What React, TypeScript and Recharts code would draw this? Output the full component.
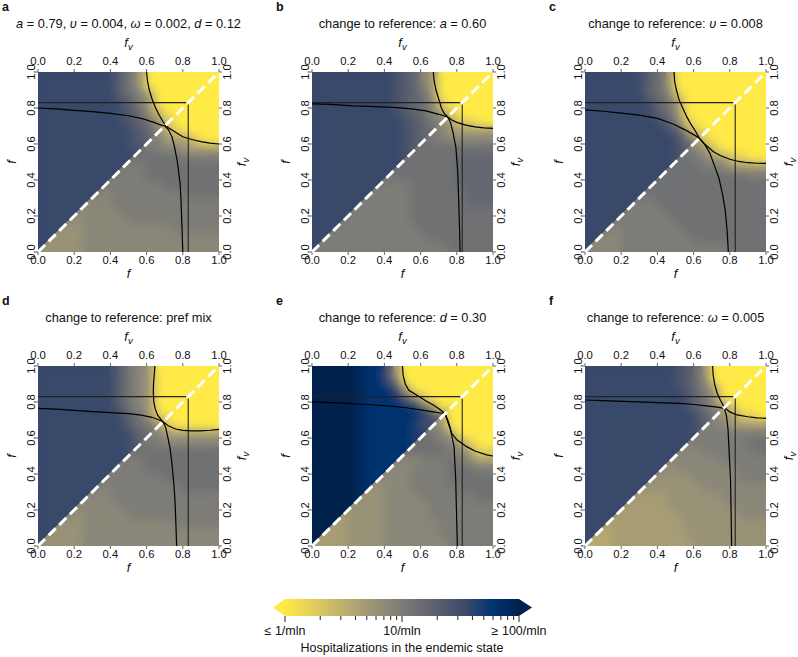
import React from 'react';
import { ComposedChart, Scatter, Area, XAxis, YAxis, ReferenceArea } from 'recharts';

const FONT = '"Liberation Sans", Arial, Helvetica, sans-serif';
const INK = '#111';

// axis ticks shared by every panel
const TICKS = [0, 0.2, 0.4, 0.6, 0.8, 1];

// heat map grid: 20x20 cells, rows from f = 1 (top) down to f = 0, columns fv = 0 .. 1
// code -> colour level: '0' darkest (>= 100/mln) ... '9' yellow (<= 1/mln), letters are half steps
const N = 20;
const LEVEL_CODES = '0a1b2c3d4e5f6g7h8i9';
const CIVIDIS = ['#00204D', '#00336F', '#39486B', '#575C6D', '#707173', '#8A8779', '#A69D75', '#C4B56C', '#E4CF5B', '#FFEA46'];
const YELLOW = '#FFE93F';

const CROSS = 0.83;
const CROSS_LINE = [
  { x: 0, y: CROSS },
  { x: CROSS, y: CROSS },
  { x: CROSS, y: 0 },
];
const DIAGONAL = [
  { x: 0, y: 0 },
  { x: 1, y: 1 },
];

// ---- panel a
const A_GRID = [
  '22222222cde699999999',
  '22222222cde699999999',
  '22222222cd4569999999',
  '222222222cde69999999',
  '222222222c3467999999',
  '222222222c3d46899999',
  '2222222222c345789999',
  '2222222222c3d5666899',
  '2222222222ccee556666',
  '2222222222244444eeee',
  '2222222222ee44444444',
  '222222222eee44444444',
  '22222222eeeeee444444',
  '22222225eeeeeeee4444',
  '22222255eeeeeeeeeeee',
  '222225555eeeeeeeeeee',
  '2222f55555eeeeeeeeee',
  '222ff5555555555eeeee',
  '22fff555555555555555',
  '2ffff555555555555555',
];
const A_DIAG = '9999985e44eeee555fff';
const A_EDGE: [number, number][] = [
  [0.6, 1], [0.605, 0.95], [0.615, 0.9], [0.63, 0.85], [0.65, 0.8], [0.67, 0.76], [0.69, 0.725], [0.705, 0.705],
  [0.72, 0.69], [0.76, 0.665], [0.8, 0.64], [0.85, 0.625], [0.9, 0.613], [0.95, 0.605], [1, 0.6],
];
const A_INNER: [number, number][] = [
  [0, 0.8], [0.1, 0.795], [0.2, 0.787], [0.3, 0.78], [0.4, 0.77], [0.5, 0.757], [0.58, 0.74], [0.64, 0.72], [0.68, 0.705],
  [0.7, 0.7], [0.72, 0.68], [0.74, 0.64], [0.755, 0.58], [0.77, 0.5], [0.785, 0.38], [0.79, 0.29], [0.795, 0.15], [0.8, 0],
];

// ---- panel b
const B_GRID = [
  '222222222c3d56999999',
  '222222222c3d56999999',
  '222222222c3d46999999',
  '222222222c3d45899999',
  '222222222c3d45689999',
  '2222222222c3de568899',
  '2222222222c3d4566666',
  '2222222222c3dee55555',
  '2222222222c344444444',
  '2222222222c44444dddd',
  '2222222222444444dddd',
  '2222222224444444dddd',
  '22222222eee44444dddd',
  '2222222eeee444444ddd',
  '222222eeeee444444ddd',
  '22222eeeeee444444444',
  '2222eeeeeee444444444',
  '222eeeeeeeee44444444',
  '22eeeeeeeeeee4444444',
  '2eeeeeeeeeeeeee44444',
];
const B_DIAG = '999985e44444eeeeeeee';
const B_EDGE: [number, number][] = [
  [0.67, 1], [0.675, 0.95], [0.685, 0.9], [0.7, 0.85], [0.715, 0.8], [0.73, 0.77], [0.75, 0.75], [0.77, 0.735],
  [0.8, 0.72], [0.85, 0.705], [0.9, 0.695], [0.95, 0.69], [1, 0.687],
];
const B_INNER: [number, number][] = [
  [0, 0.823], [0.1, 0.82], [0.23, 0.812], [0.35, 0.808], [0.45, 0.804], [0.55, 0.795], [0.63, 0.784], [0.7, 0.765],
  [0.75, 0.75], [0.765, 0.72], [0.78, 0.66], [0.795, 0.58], [0.805, 0.45], [0.81, 0.3], [0.813, 0.2], [0.816, 0.1], [0.818, 0],
];

// ---- panel c
const C_GRID = [
  '222222cd469999999999',
  '222222cd469999999999',
  '222222cd458999999999',
  '2222222cde6999999999',
  '2222222cd46999999999',
  '22222222cd5899999999',
  '222222222cd689999999',
  '2222222222c468999999',
  '2222222222cd56899999',
  '2222222222c4e5668899',
  '2222222222444ee56666',
  '222222222444444444ee',
  '22222222444444444444',
  '22222224444444444444',
  '222222ee444444444444',
  '22222eeee44444444444',
  '2222eeeeee4444444444',
  '2225eeeeeee444444444',
  '2255eeeeeeee44444444',
  '2555eeeeeeeeeeee4444',
];
const C_DIAG = '99999996e44444eeee55';
const C_EDGE: [number, number][] = [
  [0.492, 1], [0.495, 0.95], [0.505, 0.9], [0.52, 0.845], [0.54, 0.8], [0.562, 0.752], [0.585, 0.71], [0.608, 0.675],
  [0.632, 0.632], [0.66, 0.6], [0.71, 0.557], [0.75, 0.535], [0.8, 0.515], [0.85, 0.503], [0.9, 0.496], [0.95, 0.493], [1, 0.492],
];
const C_INNER: [number, number][] = [
  [0, 0.79], [0.1, 0.782], [0.2, 0.772], [0.3, 0.76], [0.4, 0.742], [0.49, 0.71], [0.55, 0.68], [0.6, 0.652], [0.632, 0.632],
  [0.66, 0.6], [0.69, 0.548], [0.715, 0.48], [0.74, 0.41], [0.76, 0.32], [0.775, 0.23], [0.785, 0.12], [0.792, 0],
];

// ---- panel d
const D_GRID = [
  '22222222cde569999999',
  '22222222cde569999999',
  '22222222cde569999999',
  '22222222cde569999999',
  '22222222cde569999999',
  '222222222cde68999999',
  '222222222cd4e6899999',
  '2222222222cd45666666',
  '2222222222cdee555555',
  '2222222222c444444444',
  '2222222222ee44444444',
  '222222222eee44444444',
  '22222222eeeeee444444',
  '22222225eeeeeeee4444',
  '22222255eeeeeeeeeeee',
  '222225555eeeeeeeeeee',
  '2222f55555eeeeeeeeee',
  '222ff5555555555eeeee',
  '22fff555555555555555',
  '2ffff555555555555555',
];
const D_DIAG = '9999996e44eeee555fff';
const D_EDGE: [number, number][] = [
  [0.646, 1], [0.642, 0.95], [0.638, 0.9], [0.637, 0.85], [0.64, 0.8], [0.648, 0.76], [0.662, 0.725], [0.69, 0.69],
  [0.72, 0.668], [0.76, 0.65], [0.8, 0.642], [0.85, 0.64], [0.9, 0.64], [0.95, 0.643], [1, 0.648],
];
const D_INNER: [number, number][] = [
  [0, 0.765], [0.1, 0.76], [0.2, 0.753], [0.3, 0.747], [0.4, 0.741], [0.5, 0.735], [0.57, 0.727], [0.63, 0.715], [0.67, 0.7],
  [0.69, 0.69], [0.705, 0.66], [0.718, 0.6], [0.73, 0.54], [0.742, 0.44], [0.75, 0.35], [0.757, 0.25], [0.762, 0.12], [0.766, 0],
];

// ---- panel e
const E_GRID = [
  '00000a11c69999999999',
  '00000a11c59999999999',
  '00000a111c6999999999',
  '00000a111bd589999999',
  '00000a11111bd6999999',
  '00000a111111bc499999',
  '00000a11111bcc699999',
  '00000a11111bbe569999',
  '00000a11111b44e56899',
  '00000a111114444e5688',
  '00000a111155eee4e566',
  '00000a11155eeee444ee',
  '00000a11555eeee44444',
  '00000a1f555eeeee4444',
  '00000aff5555eeeeee44',
  '00000fff55555eeeeeee',
  '0000ffff55555eeeeeee',
  '0006ffff555555eeeeee',
  '0066ffff555555eeeeee',
  '0666ffff5555555eeeee',
];
const E_DIAG = '999996e444555fff6666';
const E_EDGE: [number, number][] = [
  [0.5, 1], [0.503, 0.95], [0.515, 0.9], [0.535, 0.865], [0.58, 0.838], [0.63, 0.805], [0.67, 0.783], [0.705, 0.76],
  [0.735, 0.735], [0.75, 0.69], [0.772, 0.626], [0.8, 0.59], [0.855, 0.552], [0.9, 0.528], [0.965, 0.506], [1, 0.5],
];
const E_INNER: [number, number][] = [
  [0, 0.802], [0.1, 0.797], [0.2, 0.792], [0.3, 0.786], [0.42, 0.778], [0.52, 0.768], [0.6, 0.756], [0.67, 0.745],
  [0.735, 0.735], [0.75, 0.7], [0.762, 0.663], [0.775, 0.6], [0.785, 0.55], [0.79, 0.45], [0.794, 0.37], [0.798, 0.2], [0.803, 0],
];

// ---- panel f
const F_GRID = [
  '2222222222c346999999',
  '2222222222c345999999',
  '2222222222c345699999',
  '22222222222cde699999',
  '22222222222cd4568999',
  '222222222222cde66889',
  '222222222222cd556666',
  '222222222222ceeeeeee',
  '222222222222eeeeee44',
  '2222222222255eeeeee4',
  '222222222255555eeeee',
  '222222222f5555555eee',
  '22222222ffff55555eee',
  '2222222ffffff5555555',
  '222222666ffffff55555',
  '222226666fffffff5555',
  '2222666666fffffff555',
  '22266666666fffffffff',
  '22g66666666fffffffff',
  '2gg666666666ffffffff',
];
const F_DIAG = '99996eeee555ff6666gg';
const F_EDGE: [number, number][] = [
  [0.705, 1], [0.708, 0.95], [0.716, 0.9], [0.73, 0.85], [0.748, 0.81], [0.77, 0.77], [0.8, 0.745], [0.84, 0.728],
  [0.9, 0.718], [0.95, 0.712], [1, 0.709],
];
const F_INNER: [number, number][] = [
  [0, 0.811], [0.1, 0.808], [0.25, 0.802], [0.4, 0.797], [0.525, 0.792], [0.6, 0.786], [0.672, 0.778], [0.73, 0.772],
  [0.77, 0.765], [0.782, 0.72], [0.79, 0.65], [0.795, 0.552], [0.8, 0.45], [0.804, 0.367], [0.807, 0.2], [0.81, 0],
];

type Seg = [string, boolean];
const TITLE_A: Seg[] = [['a', true], [' = 0.79, ', false], ['υ', true], [' = 0.004, ', false], ['ω', true], [' = 0.002, ', false], ['d', true], [' = 0.12', false]];
const TITLE_B: Seg[] = [['change to reference: ', false], ['a', true], [' = 0.60', false]];
const TITLE_C: Seg[] = [['change to reference: ', false], ['υ', true], [' = 0.008', false]];
const TITLE_D: Seg[] = [['change to reference: pref mix', false]];
const TITLE_E: Seg[] = [['change to reference: ', false], ['d', true], [' = 0.30', false]];
const TITLE_F: Seg[] = [['change to reference: ', false], ['ω', true], [' = 0.005', false]];

// colour bar
const CB_TICKS = [1, 2, 3, 4, 5, 6, 7, 8, 9, 10, 20, 30, 40, 50, 60, 70, 80, 90, 100];
const CB_LABELS: Record<number, string> = { 1: '≤ 1/mln', 10: '10/mln', 100: '≥ 100/mln' };
const CB_TITLE = 'Hospitalizations in the endemic state';
const CB_RANGE = [
  { x: 1, y: 0 },
  { x: 100, y: 1 },
];

// ---- layout of one panel chart
const PL = 38, PT = 72, PW = 181, PH = 180;
const PR = PL + PW, PB = PT + PH;
const CW = 255, CH = 284;

function rgbOf(h: string) {
  return [1, 3, 5].map((k) => parseInt(h.slice(k, k + 2), 16));
}
function levelColor(v: number) {
  const k = Math.max(0, Math.min(8.999, v));
  const i = Math.floor(k);
  const t = k - i;
  const a = rgbOf(CIVIDIS[i]);
  const b = rgbOf(CIVIDIS[i + 1]);
  const c = a.map((av, n) => Math.round(av + (b[n] - av) * t));
  return `rgb(${c[0]},${c[1]},${c[2]})`;
}
function levelOf(ch: string | undefined) {
  const k = ch ? LEVEL_CODES.indexOf(ch) : -1;
  return k < 0 ? 4.5 : k / 2;
}

function buildCells(grid: string[], diag: string) {
  const upper: any[] = [];
  const lower: any[] = [];
  for (let r = 0; r < N; r++) {
    const j = N - 1 - r;
    const row = grid[r];
    for (let i = 0; i < N; i++) {
      const x = (i + 0.5) / N;
      const y = (j + 0.5) / N;
      if (i <= j) upper.push({ x, y, fill: levelColor(levelOf(row[i])) });
      if (i >= j) lower.push({ x, y, fill: levelColor(levelOf(i === j ? diag[r] : row[i])) });
    }
    // one extra cell across the diagonal so the blur has colour to draw from
    if (j + 1 < N) upper.push({ x: (j + 1.5) / N, y: (j + 0.5) / N, fill: levelColor(levelOf(row[j])) });
    if (j - 1 >= 0) lower.push({ x: (j - 0.5) / N, y: (j + 0.5) / N, fill: levelColor(levelOf(diag[r])) });
  }
  return { upper, lower };
}

const toXY = (pts: [number, number][]) => pts.map(([x, y]) => ({ x, y }));
// band between the contour and f = 1, for the solid yellow area
const toBand = (pts: [number, number][]) => pts.map(([x, y]) => ({ x, band: [y, 1] }));
const fmt = (v: number) => v.toFixed(1);
const tickFont = { fontSize: 11.3, fontFamily: FONT, fill: INK };
const TICK_INK = '#666';

const BottomTick = ({ x, y, payload }: any) => (
  <g>
    <line x1={x} x2={x} y1={y} y2={y + 3} stroke={TICK_INK} />
    <text x={x} y={y + 12} textAnchor="middle" {...tickFont}>{fmt(payload.value)}</text>
  </g>
);
const TopTick = ({ x, y, payload }: any) => (
  <g>
    <line x1={x} x2={x} y1={y} y2={y - 3} stroke={TICK_INK} />
    <text x={x} y={y - 7} textAnchor="middle" {...tickFont}>{fmt(payload.value)}</text>
  </g>
);
const LeftTick = ({ x, y, payload }: any) => (
  <g>
    <line x1={x} x2={x - 3} y1={y} y2={y} stroke={TICK_INK} />
    <text x={x - 3} y={y} transform={`rotate(-90 ${x - 3} ${y})`} textAnchor="middle" {...tickFont}>{fmt(payload.value)}</text>
  </g>
);
const RightTick = ({ x, y, payload }: any) => (
  <g>
    <line x1={x} x2={x + 3} y1={y} y2={y} stroke={TICK_INK} />
    <text x={x + 12} y={y} transform={`rotate(-90 ${x + 12} ${y})`} textAnchor="middle" {...tickFont}>{fmt(payload.value)}</text>
  </g>
);

interface PanelSpec {
  id: string;
  left: number;
  top: number;
  grid: string[];
  diag: string;
  edge: [number, number][];
  inner: [number, number][];
  title: Seg[];
}

const PANELS: PanelSpec[] = [
  { id: 'a', left: 0, top: 0, grid: A_GRID, diag: A_DIAG, edge: A_EDGE, inner: A_INNER, title: TITLE_A },
  { id: 'b', left: 274, top: 0, grid: B_GRID, diag: B_DIAG, edge: B_EDGE, inner: B_INNER, title: TITLE_B },
  { id: 'c', left: 547, top: 0, grid: C_GRID, diag: C_DIAG, edge: C_EDGE, inner: C_INNER, title: TITLE_C },
  { id: 'd', left: 0, top: 294, grid: D_GRID, diag: D_DIAG, edge: D_EDGE, inner: D_INNER, title: TITLE_D },
  { id: 'e', left: 274, top: 294, grid: E_GRID, diag: E_DIAG, edge: E_EDGE, inner: E_INNER, title: TITLE_E },
  { id: 'f', left: 547, top: 294, grid: F_GRID, diag: F_DIAG, edge: F_EDGE, inner: F_INNER, title: TITLE_F },
];

const noMark = () => <g />;

function Panel({ id, left, top, grid, diag, edge, inner, title }: PanelSpec) {
  const { upper, lower } = React.useMemo(() => buildCells(grid, diag), [grid, diag]);
  const cw = PW / N;
  const chh = PH / N;
  const cellShape = (p: any) => (
    <rect x={p.cx - cw / 2 - 0.35} y={p.cy - chh / 2 - 0.35} width={cw + 0.7} height={chh + 0.7} fill={p.payload.fill} />
  );
  const midX = PL + PW / 2;
  const midY = PT + PH / 2;
  const axisName = { fontSize: 13, fontFamily: FONT, fill: INK, fontStyle: 'italic' as const };
  return (
    <div style={{ position: 'absolute', left, top }}>
      <ComposedChart width={CW} height={CH} margin={{ top: PT - 40, right: 0, bottom: 0, left: 0 }}>
        <defs>
          <filter id={`bl-${id}`} x="-15%" y="-15%" width="130%" height="130%">
            <feGaussianBlur stdDeviation={5} />
          </filter>
          <clipPath id={`cu-${id}`}>
            <polygon points={`${PL},${PB} ${PL},${PT} ${PR},${PT}`} />
          </clipPath>
          <clipPath id={`cl-${id}`}>
            <polygon points={`${PL},${PB} ${PR},${PB} ${PR},${PT} ${PR - 1.5},${PT} ${PL},${PB - 1.5}`} />
          </clipPath>
        </defs>
        <XAxis xAxisId="b" orientation="bottom" type="number" dataKey="x" domain={[0, 1]} ticks={TICKS} interval={0}
          height={CH - PB} tickSize={0} tickMargin={0} axisLine={false} tickLine={false} tick={BottomTick} />
        <XAxis xAxisId="t" orientation="top" type="number" dataKey="x" domain={[0, 1]} ticks={TICKS} interval={0}
          height={40} tickSize={0} tickMargin={0} axisLine={false} tickLine={false} tick={TopTick} />
        <YAxis yAxisId="l" orientation="left" type="number" dataKey="y" domain={[0, 1]} ticks={TICKS} interval={0}
          width={PL} tickSize={0} tickMargin={0} axisLine={false} tickLine={false} tick={LeftTick} />
        <YAxis yAxisId="r" orientation="right" type="number" dataKey="y" domain={[0, 1]} ticks={TICKS} interval={0}
          width={CW - PR} tickSize={0} tickMargin={0} axisLine={false} tickLine={false} tick={RightTick} />

        <Scatter xAxisId="t" yAxisId="r" data={DIAGONAL} shape={noMark} isAnimationActive={false} />

        <Scatter xAxisId="b" yAxisId="l" data={upper} shape={cellShape} className={`hm-u-${id}`} isAnimationActive={false} />
        <Scatter xAxisId="b" yAxisId="l" data={upper} shape={cellShape} className={`hm-u-${id} hm-b-${id}`} isAnimationActive={false} />
        <Scatter xAxisId="b" yAxisId="l" data={lower} shape={cellShape} className={`hm-l-${id}`} isAnimationActive={false} />
        <Scatter xAxisId="b" yAxisId="l" data={lower} shape={cellShape} className={`hm-l-${id} hm-b-${id}`} isAnimationActive={false} />

        <Area xAxisId="b" yAxisId="l" data={toBand(edge)} dataKey="band" type="linear" stroke="none" fill={YELLOW}
          fillOpacity={1} dot={false} activeDot={false} isAnimationActive={false} />

        <Scatter xAxisId="b" yAxisId="l" data={CROSS_LINE} shape={noMark} line={{ stroke: '#222', strokeWidth: 1.1 }} lineType="joint" isAnimationActive={false} />
        <Scatter xAxisId="b" yAxisId="l" data={toXY(edge)} shape={noMark} line={{ stroke: '#000', strokeWidth: 1.2 }} lineType="joint" isAnimationActive={false} />
        <Scatter xAxisId="b" yAxisId="l" data={toXY(inner)} shape={noMark} line={{ stroke: '#000', strokeWidth: 1.2 }} lineType="joint" isAnimationActive={false} />
        <Scatter xAxisId="b" yAxisId="l" data={DIAGONAL} shape={noMark}
          line={{ stroke: '#fff', strokeWidth: 3, strokeDasharray: '10 5' }} lineType="joint" isAnimationActive={false} />

        <text x={PL - 36} y={PT - 61} fontSize={12.5} fontWeight={700} fontFamily={FONT} fill={INK}>{id}</text>
        <text x={midX} y={PT - 44} textAnchor="middle" fontSize={12.8} fontFamily={FONT} fill={INK} style={{ whiteSpace: 'pre' }}>
          {title.map(([t, it], k) => (
            <tspan key={k} fontStyle={it ? 'italic' : 'normal'}>{t}</tspan>
          ))}
        </text>
        <text x={midX} y={PT - 25} textAnchor="middle" {...axisName}>
          f<tspan dy={3} fontSize={9.5}>v</tspan>
        </text>
        <text x={midX} y={PB + 26} textAnchor="middle" {...axisName}>f</text>
        <text x={PL - 22} y={midY} transform={`rotate(-90 ${PL - 22} ${midY})`} textAnchor="middle" {...axisName}>f</text>
        <text x={PR + 27} y={midY} transform={`rotate(-90 ${PR + 27} ${midY})`} textAnchor="middle" {...axisName}>
          f<tspan dy={3} fontSize={9.5}>v</tspan>
        </text>
      </ComposedChart>
    </div>
  );
}

const CbTick = ({ x, y, payload }: any) => {
  const label = CB_LABELS[payload.value];
  return (
    <g>
      <line x1={x} x2={x} y1={y} y2={y + (label ? 6 : 4)} stroke="#222" />
      {label && (
        <text x={x} y={y + 19} textAnchor="middle" fontSize={12.5} fontFamily={FONT} fill={INK}>{label}</text>
      )}
    </g>
  );
};

const barShape = (p: any) => {
  const { x, y, width: w, height: h } = p;
  const stops = CIVIDIS.slice().reverse();
  return (
    <g>
      <defs>
        <linearGradient id="cb-grad" gradientUnits="userSpaceOnUse" x1={x} y1={0} x2={x + w} y2={0}>
          {stops.map((c, k) => (
            <stop key={k} offset={k / (stops.length - 1)} stopColor={c} />
          ))}
        </linearGradient>
      </defs>
      <polygon
        points={`${x - 12},${y + h / 2} ${x},${y} ${x + w},${y} ${x + w + 13},${y + h / 2} ${x + w},${y + h} ${x},${y + h}`}
        fill="url(#cb-grad)"
      />
    </g>
  );
};

function ColorBar() {
  return (
    <div style={{ position: 'absolute', left: 245, top: 590 }}>
      <ComposedChart width={320} height={66} margin={{ top: 9, right: 46, bottom: 16, left: 40 }}>
        <XAxis type="number" scale="log" dataKey="x" domain={[1, 100]} ticks={CB_TICKS} interval={0} height={24}
          tickSize={0} tickMargin={0} axisLine={false} tickLine={false} tick={CbTick} />
        <YAxis type="number" dataKey="y" domain={[0, 1]} hide />
        <Scatter data={CB_RANGE} shape={noMark} isAnimationActive={false} />
        <ReferenceArea x1={1} x2={100} y1={0} y2={1} shape={barShape} />
        <text x={157} y={62} textAnchor="middle" fontSize={12.5} fontFamily={FONT} fill={INK}>{CB_TITLE}</text>
      </ComposedChart>
    </div>
  );
}

const css = PANELS.map(
  ({ id }) => `.hm-u-${id}{clip-path:url(#cu-${id});} .hm-l-${id}{clip-path:url(#cl-${id});} .hm-b-${id}{filter:url(#bl-${id});}`
).join('\n');

export default function App() {
  return (
    <div style={{ position: 'absolute', left: 0, top: 0, width: 798, height: 657, overflow: 'hidden', background: '#fff', fontFamily: FONT }}>
      <style>{css}</style>
      {PANELS.map((p) => (
        <Panel key={p.id} {...p} />
      ))}
      <ColorBar />
    </div>
  );
}
